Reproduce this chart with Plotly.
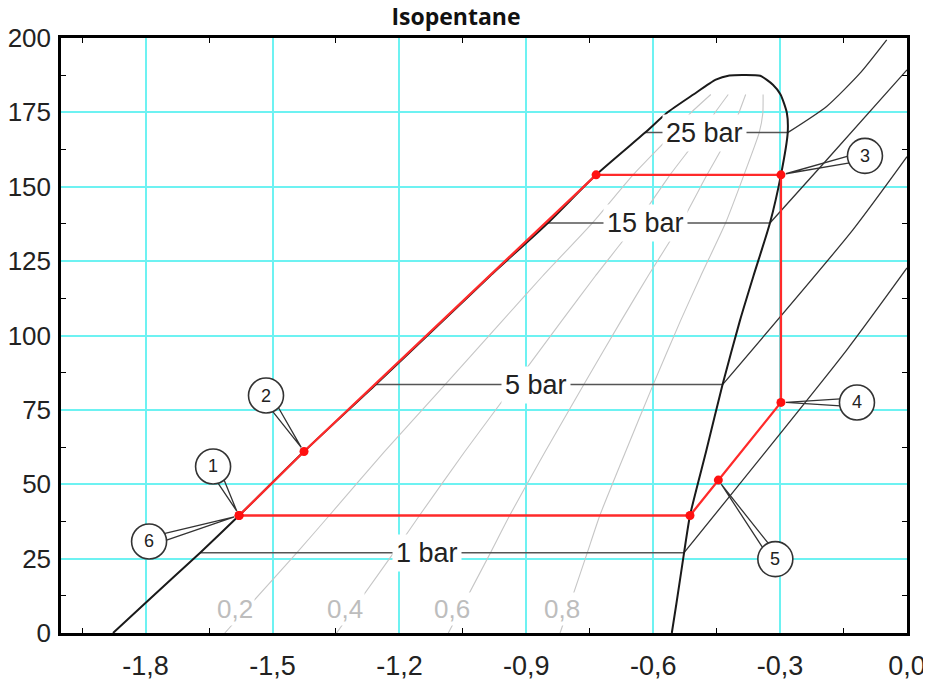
import math
import plotly.graph_objects as go

# ---------------- data ----------------
# saturation dome: temperature [°C], entropy of saturated liquid / vapour
sat_T = [0, 10, 27, 39.5, 61, 83.5, 105, 120, 137.8, 154, 168.2, 174.8, 181]
sat_sl = [-1.877, -1.801, -1.671, -1.579, -1.4255, -1.256, -1.0965, -0.986, -0.849, -0.735, -0.619, -0.568, -0.505]
sat_sv = [-0.556, -0.545, -0.527, -0.513, -0.475, -0.436, -0.395, -0.363, -0.324, -0.298, -0.282, -0.284, -0.299]
# rounded top of the dome (liquid side -> vapour side)
top_s = [-0.452, -0.420, -0.385, -0.347, -0.317]
top_T = [186.0, 187.4, 187.6, 187.3, 184.3]

# vapour quality lines
q_values = [0.2, 0.4, 0.6, 0.8]
q_labels = ["0,2", "0,4", "0,6", "0,8"]
q_label_s = [-1.589, -1.329, -1.076, -0.816]
q_label_T = [8, 8, 8, 8]

# isobars
isobar_labels = ["1 bar", "5 bar", "15 bar", "25 bar"]
isobar_Tsat = [27, 83.5, 137.8, 168.2]
isobar_s_liq = [-1.671, -1.256, -0.849, -0.619]
isobar_s_vap = [-0.527, -0.436, -0.324, -0.282]
isobar_label_s = [-1.135, -0.877, -0.619, -0.479]
# superheated branches
sh1_s = [-0.527, -0.1426, 0.0]
sh1_T = [27, 95.1, 122.7]
sh5_s = [-0.436, -0.128, 0.0]
sh5_T = [83.5, 135.5, 160.1]
sh15_s = [-0.324, -0.190, 0.0]
sh15_T = [137.8, 159.0, 189.3]
sh25_s = [-0.282, -0.190, -0.111, -0.048]
sh25_T = [168.2, 177.0, 188.2, 199.4]

# ORC cycle points
cyc_s = [-1.579, -1.4255, -0.735, -0.298, -0.298, -0.446, -0.513, -1.579]
cyc_T = [39.5, 61, 154, 154, 77.5, 51.4, 39.5, 39.5]

# callouts: label, point index on the cycle
callout_labels = ["1", "2", "3", "4", "5", "6"]
callout_point = [0, 1, 3, 4, 5, 0]

# axis ticks
x_ticks = [-1.8, -1.5, -1.2, -0.9, -0.6, -0.3, 0.0]
x_ticktext = ["-1,8", "-1,5", "-1,2", "-0,9", "-0,6", "-0,3", "0,0"]
y_ticks = [0, 25, 50, 75, 100, 125, 150, 175, 200]

# ---------------- styling / layout ----------------
callout_offsets = [(-26, 49), (-38, 56), (84, 19), (76, 0), (57, -79), (-90, -26)]
R = 17.5

fig = go.Figure()

# quality lines
for q in q_values:
    qs = [a + q * (b - a) for a, b in zip(sat_sl, sat_sv)]
    fig.add_trace(go.Scatter(x=qs, y=sat_T, mode="lines",
                             line=dict(color="#c6c6c6", width=1.1, shape="spline", smoothing=0.5),
                             hoverinfo="skip", showlegend=False))

# isobars, two-phase part
for sl, sv, t in zip(isobar_s_liq, isobar_s_vap, isobar_Tsat):
    fig.add_trace(go.Scatter(x=[sl, sv], y=[t, t], mode="lines",
                             line=dict(color="#555555", width=1.5),
                             hoverinfo="skip", showlegend=False))
# isobars, superheated part
for xs, ys in [(sh1_s, sh1_T), (sh5_s, sh5_T), (sh15_s, sh15_T), (sh25_s, sh25_T)]:
    fig.add_trace(go.Scatter(x=xs, y=ys, mode="lines",
                             line=dict(color="#333333", width=1.3, shape="spline", smoothing=0.6),
                             hoverinfo="skip", showlegend=False))

# saturation dome
dome_s = list(sat_sl) + top_s + list(reversed(sat_sv))
dome_T = list(sat_T) + top_T + list(reversed(sat_T))
fig.add_trace(go.Scatter(x=dome_s, y=dome_T, mode="lines",
                         line=dict(color="#1a1a1a", width=2, shape="spline", smoothing=0.6),
                         hoverinfo="skip", showlegend=False))

# cycle
fig.add_trace(go.Scatter(x=cyc_s, y=cyc_T, mode="lines+markers",
                         line=dict(color="#ff2a2a", width=2.3),
                         marker=dict(color="#ff1010", size=9),
                         hoverinfo="skip", showlegend=False))

shapes = []
annotations = []

# isobar labels
for lab, s, t in zip(isobar_labels, isobar_label_s, isobar_Tsat):
    annotations.append(dict(x=s, y=t, text=lab, showarrow=False,
                            font=dict(family="Liberation Sans, Arial", size=27, color="#222"),
                            bgcolor="white", borderpad=3))
# quality labels
for lab, s, t in zip(q_labels, q_label_s, q_label_T):
    annotations.append(dict(x=s, y=t, text=lab, showarrow=False,
                            font=dict(family="Liberation Sans, Arial", size=26, color="#bdbdbd"),
                            bgcolor="white", borderpad=1))

# callouts
for lab, idx, (dx, dy) in zip(callout_labels, callout_point, callout_offsets):
    ps, pT = cyc_s[idx], cyc_T[idx]
    L = math.hypot(dx, dy)
    ux, uy = dx / L, dy / L
    tx, ty = ux * 5, uy * 5
    bx, by = dx - ux * (R - 1), dy - uy * (R - 1)
    nx, ny = -uy, ux
    w = 3.5
    path = (f"M {bx + nx * w:.1f},{by + ny * w:.1f} L {tx:.1f},{ty:.1f} "
            f"L {bx - nx * w:.1f},{by - ny * w:.1f}")
    shapes.append(dict(type="path", xref="x", yref="y", xsizemode="pixel", ysizemode="pixel",
                       xanchor=ps, yanchor=pT, path=path,
                       line=dict(color="#333333", width=1.3)))
    shapes.append(dict(type="circle", xref="x", yref="y", xsizemode="pixel", ysizemode="pixel",
                       xanchor=ps, yanchor=pT, x0=dx - R, x1=dx + R, y0=dy - R, y1=dy + R,
                       line=dict(color="#333333", width=1.6), fillcolor="white"))
    annotations.append(dict(x=ps, y=pT, xshift=dx, yshift=dy, text=lab, showarrow=False,
                            font=dict(family="Liberation Sans, Arial", size=18, color="#222")))

# the page body adds an 8px offset, so margins are shifted by 8px
fig.update_layout(
    width=931, height=680,
    margin=dict(l=53, r=32, t=30, b=55, autoexpand=False),
    paper_bgcolor="white", plot_bgcolor="white",
    title=dict(text="<b>Isopentane</b>", x=448 / 931, xanchor="center", y=0.999, yanchor="top",
               font=dict(family="Open Sans", size=23, color="#111"), automargin=False),
    shapes=shapes, annotations=annotations,
    showlegend=False,
)
fig.update_xaxes(range=[-2.0, 0.0], tickvals=x_ticks, ticktext=x_ticktext, automargin=False,
                 showgrid=True, gridcolor="#6df2f2", gridwidth=2, zeroline=False,
                 showline=True, mirror="allticks", linecolor="black", linewidth=2.5,
                 ticks="", ticklabelstandoff=7,
                 tickfont=dict(family="Liberation Sans, Arial", size=27, color="#222"),
                 minor=dict(tick0=-1.95, dtick=0.3, ticks="inside", ticklen=5,
                            tickcolor="black", showgrid=False))
fig.update_yaxes(range=[0, 200], tickvals=y_ticks, automargin=False,
                 showgrid=True, gridcolor="#6df2f2", gridwidth=2, zeroline=False,
                 showline=True, mirror="allticks", linecolor="black", linewidth=2.5,
                 ticks="", ticklabelstandoff=2,
                 tickfont=dict(family="Liberation Sans, Arial", size=26, color="#222"),
                 minor=dict(tick0=12.5, dtick=25, ticks="inside", ticklen=5,
                            tickcolor="black", showgrid=False))

fig.write_html("out.html")
